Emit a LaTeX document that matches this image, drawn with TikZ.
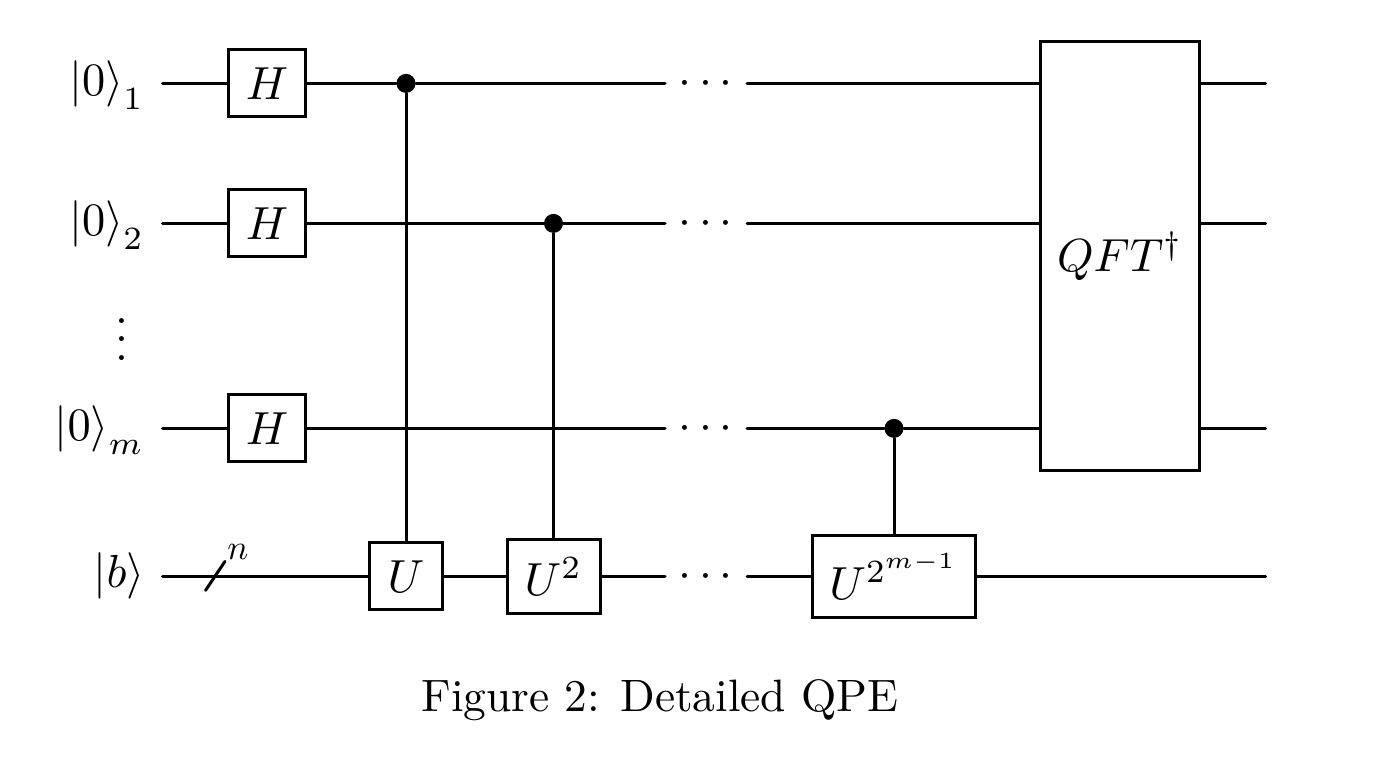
\documentclass[tikz,border=0pt]{standalone}
\usepackage{amsmath}
\usepackage{graphicx}
\newcommand{\sz}[1]{\scalebox{2.32}{#1}}
\begin{document}
\begin{tikzpicture}[x=0.5pt,y=-0.5pt,
  wire/.style={line width=1.5pt,line cap=round},
  gate/.style={draw,line width=1.5pt,fill=white,inner sep=0pt},
  ctrl/.style={circle,fill=black,inner sep=0pt,minimum size=9.5pt},
  lbl/.style={inner sep=0pt,anchor=base east},
  txt/.style={inner sep=0pt}]
\useasboundingbox (0,-0.4) rectangle (1398,773.6);
\coordinate (s1) at (162.5,83); \coordinate (s2) at (162.5,223); \coordinate (s3) at (162.5,428); \coordinate (s4) at (162.5,576);
\coordinate (e1) at (1265.5,83); \coordinate (e2) at (1265.5,223); \coordinate (e3) at (1265.5,428); \coordinate (e4) at (1265.5,576);
\coordinate (dl1) at (665,83); \coordinate (dr1) at (747,83);
\coordinate (dl2) at (665,223); \coordinate (dr2) at (747,223);
\coordinate (dl3) at (665,428); \coordinate (dr3) at (747,428);
\coordinate (dl4) at (665,576); \coordinate (dr4) at (747,576);
\node[gate,minimum width=38.7pt,minimum height=33.5pt] (h1) at (267,83) {\sz{$H$}};
\node[gate,minimum width=38.7pt,minimum height=33.5pt] (h2) at (267,223) {\sz{$H$}};
\node[gate,minimum width=38.7pt,minimum height=33.5pt] (h3) at (267,428) {\sz{$H$}};
\node[gate,minimum width=36.3pt,minimum height=33.5pt] (u1) at (406,576) {\sz{$U$}};
\node[gate,minimum width=46.5pt,minimum height=37pt] (u2) at (553.5,576) {\sz{$U^2$}};
\node[gate,minimum width=81.5pt,minimum height=41pt] (u3) at (894,576) {\sz{$U^{2^{m-1}}$}};
\node[gate,minimum width=79.7pt,minimum height=214.5pt] (qft) at (1120,255.5) {\sz{$QFT^\dagger$}};
\node[ctrl] (c1) at (406,83) {};
\node[ctrl] (c2) at (553.5,223) {};
\node[ctrl] (c3) at (894,428) {};
\draw[wire] (s1) -- (h1);
\draw[wire] (h1) -- (c1) -- (dl1);
\draw[wire] (dr1) -- (qft.west |- dr1);
\draw[wire] (qft.east |- e1) -- (e1);
\draw[wire] (s2) -- (h2);
\draw[wire] (h2) -- (c2) -- (dl2);
\draw[wire] (dr2) -- (qft.west |- dr2);
\draw[wire] (qft.east |- e2) -- (e2);
\draw[wire] (s3) -- (h3);
\draw[wire] (h3) -- (dl3);
\draw[wire] (dr3) -- (c3) -- (qft.west |- dr3);
\draw[wire] (qft.east |- e3) -- (e3);
\draw[wire] (s4) -- (u1);
\draw[wire] (u1) -- (u2);
\draw[wire] (u2) -- (dl4);
\draw[wire] (dr4) -- (u3);
\draw[wire] (u3) -- (e4);
\draw[wire] (c1) -- (u1);
\draw[wire] (c2) -- (u2);
\draw[wire] (c3) -- (u3);
\coordinate (sa) at (205.5,590); \coordinate (sb) at (225,561);
\draw[wire] (sa) -- (sb);
\node[txt] (nn) at (238,552) {\scalebox{1.75}{$n$}};
\foreach \y/\n in {83/a,223/b,428/c,576/d} \node[txt] (dots\n) at (709.5,\y+1) {\sz{$\cdots$}};
\node[lbl] (l1) at (144.5,95) {\sz{$\left|0\right\rangle_1$}};
\node[lbl] (l2) at (144.5,235) {\sz{$\left|0\right\rangle_2$}};
\node[lbl] (l3) at (144.5,440) {\sz{$\left|0\right\rangle_m$}};
\node[lbl] (l4) at (145,587) {\sz{$\left|b\right\rangle$}};
\node[txt] (vd) at (122,325) {\sz{$\vdots$}};
\node[txt] (cap) at (660,700) {\scalebox{2.27}{Figure 2: Detailed QPE}};
\end{tikzpicture}
\end{document}
